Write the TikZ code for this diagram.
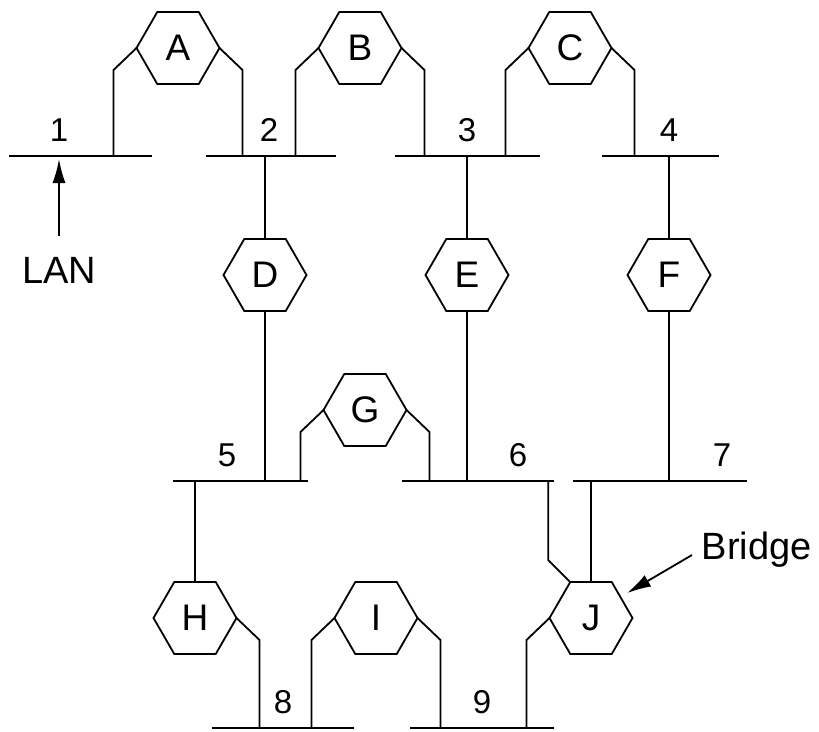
\documentclass[tikz,border=0pt]{standalone}
\usepackage{fontspec}
\setmainfont{Liberation Sans}
\usetikzlibrary{shapes.geometric, positioning, arrows.meta, calc}

\begin{document}
\begin{tikzpicture}[
  x=1pt, y=-1pt,
  line width=1.8pt,
  >={Latex[length=24pt,width=13pt]},
  hexa/.style={draw, regular polygon, regular polygon sides=6, minimum size=83pt,
    inner sep=0pt, outer sep=0pt, font=\fontsize{37}{40}\selectfont},
  num/.style={inner sep=0pt, font=\fontsize{33}{36}\selectfont},
  lbl/.style={inner sep=0pt, font=\fontsize{38}{40}\selectfont}
]
  \useasboundingbox (0,0) rectangle (819,731);

  % LAN segments and their numbers
  \foreach \n/\xa/\xb/\y/\xn in {1/9/152/156/59, 2/206/336/156/269, 3/395/540/156/467,
      4/602/719/156/669, 5/173/308/481/227, 6/402/554/481/518, 7/573/747/481/722,
      8/212/354/728/283, 9/410/554/728/482}{
    \draw (\xa,\y) coordinate (w\n) -- (\xb,\y) coordinate (e\n);
    \node[num] (n\n) at (\xn,\y-26) {\n};
  }

  % bridges
  \node[hexa] (A) at (178,48) {A};
  \node[hexa] (B) at (360,48) {B};
  \node[hexa] (C) at (570,48) {C};
  \node[hexa] (D) at (265,275) {D};
  \node[hexa] (E) at (467,275) {E};
  \node[hexa] (F) at (669,275) {F};
  \node[hexa] (G) at (365,410) {G};
  \node[hexa] (H) at (195,618) {H};
  \node[hexa] (I) at (376,618) {I};
  \node[hexa] (J) at (591,618) {J};

  % bridges hanging between two LANs
  \foreach \h/\p/\q in {A/1/2, B/2/3, C/3/4, G/5/6, I/8/9}{
    \draw (\h.west) -- ++(-23,22) coordinate (\h-l) -- (\h-l |- w\p);
    \draw (\h.east) -- ++(23,22) coordinate (\h-r) -- (\h-r |- w\q);
  }

  % bridges on vertical drops
  \foreach \h/\p/\q in {D/2/5, E/3/6, F/4/7}{
    \draw (\h.north) -- (\h.north |- w\p);
    \draw (\h.south) -- (\h.south |- w\q);
  }
  \draw (H.north) -- (H.north |- w5);
  \draw (H.east) -- ++(23,22) coordinate (H-r) -- (H-r |- w8);
  \draw (J.120) -- ++(-22,-22) coordinate (J-t) -- (J-t |- w6);
  \draw (J.north) -- (J.north |- w7);
  \draw (J.west) -- ++(-23,22) coordinate (J-l) -- (J-l |- w9);

  % labels
  \node[lbl] (lan) at (59,270) {LAN};
  \draw[->, shorten <=20pt, shorten >=3pt] (lan.north) -- (lan.north |- w1);
  \node[lbl, anchor=west] (br) at (701,550) {Bridge};
  \draw[->] ([shift={(-9,5)}]br.west) -- ([shift={(5,-7)}]J.30);
\end{tikzpicture}
\end{document}
